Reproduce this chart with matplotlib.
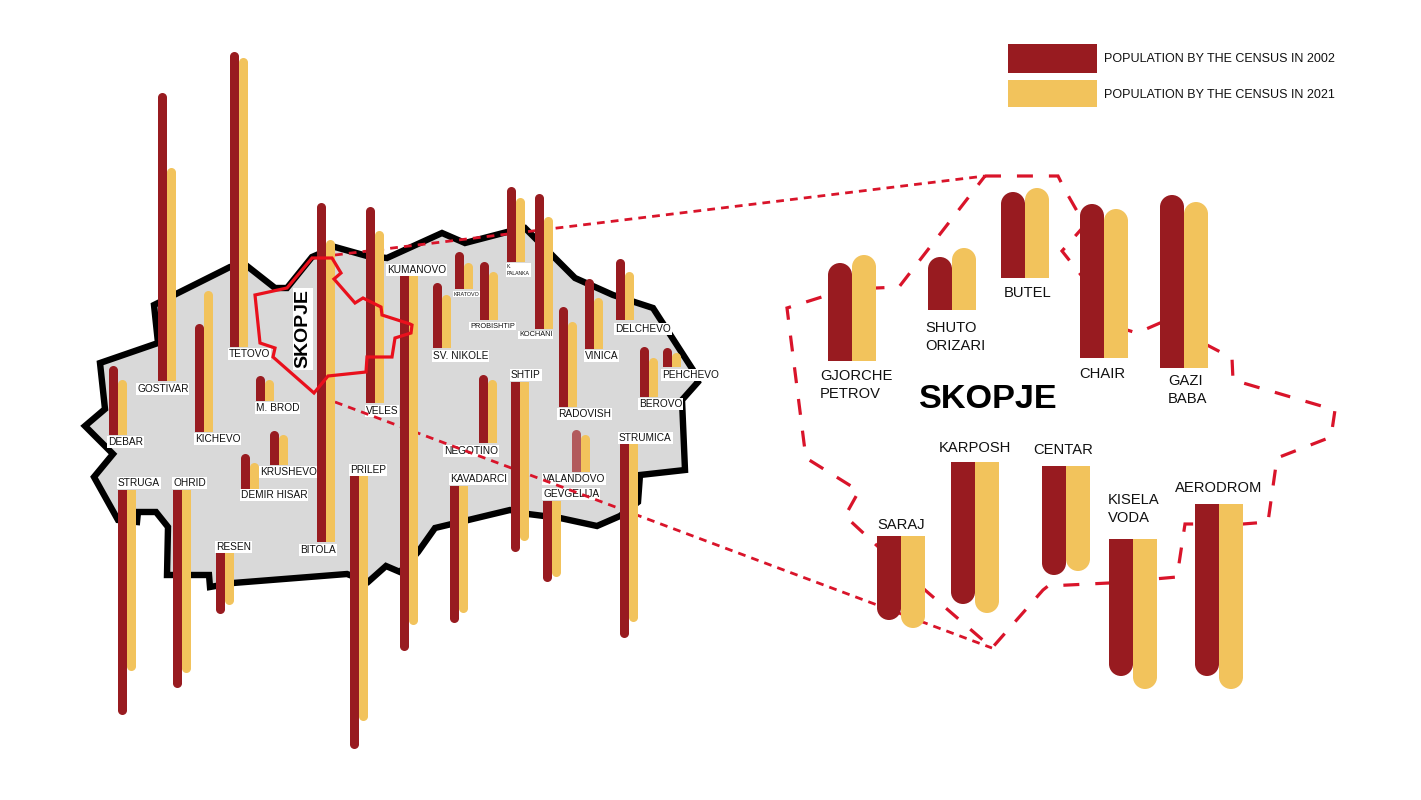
import matplotlib
matplotlib.use("Agg")
import matplotlib.pyplot as plt
from matplotlib.patches import Circle, Polygon, Rectangle

plt.rcParams['font.family'] = ['Liberation Sans', 'DejaVu Sans']

RED = "#981b20"
YELLOW = "#f2c35c"
DASH_RED = "#d9142a"
LINE_RED = "#e9101c"

# municipalities on the map: bar lengths
towns = ["GOSTIVAR", "TETOVO", "BITOLA", "VELES", "KICHEVO", "DEBAR", "M. BROD", "KRUSHEVO",
         "DEMIR HISAR", "STRUGA", "OHRID", "RESEN", "PRILEP", "KUMANOVO", "KAVADARCI", "SHTIP",
         "GEVGELIJA", "STRUMICA", "NEGOTINO", "VALANDOVO", "RADOVISH", "SV. NIKOLE", "KRATOVO",
         "PROBISHTIP", "K. PALANKA", "KOCHANI", "VINICA", "DELCHEVO", "BEROVO", "PEHCHEVO"]
towns_2002 = [288, 295, 339, 196, 108, 69, 25, 34, 35, 225, 198, 61, 273, 375, 137, 170, 81, 194,
              68, 42, 100, 65, 37, 58, 75, 135, 70, 61, 50, 19]
towns_2021 = [213, 289, 302, 172, 141, 55, 21, 30, 26, 181, 183, 52, 245, 349, 127, 159, 76, 178,
              63, 37, 85, 53, 26, 48, 64, 112, 51, 48, 39, 14]

# Skopje districts
districts = ["GJORCHE PETROV", "SHUTO ORIZARI", "BUTEL", "CHAIR", "GAZI BABA",
             "SARAJ", "KARPOSH", "CENTAR", "KISELA VODA", "AERODROM"]
districts_2002 = [98, 53, 86, 154, 173, 84, 142, 109, 137, 172]
districts_2021 = [106, 62, 90, 149, 166, 92, 151, 105, 150, 185]

legend_labels = ["POPULATION BY THE CENSUS IN 2002", "POPULATION BY THE CENSUS IN 2021"]

# layout, in picture pixels
town_x = [158, 230, 317, 366, 195, 109, 256, 270, 241, 118, 173, 216, 350, 400, 450, 511, 543, 620,
          479, 572, 559, 433, 455, 480, 507, 535, 585, 616, 640, 663]
town_base = [381, 347, 542, 403, 432, 435, 401, 465, 489, 490, 490, 553, 476, 276, 486, 382, 501, 444,
             443, 472, 407, 348, 289, 320, 262, 329, 349, 320, 397, 367]
town_dir = [1, 1, 1, 1, 1, 1, 1, 1, 1, -1, -1, -1, -1, -1, -1, -1, -1, -1,
            1, 1, 1, 1, 1, 1, 1, 1, 1, 1, 1, 1]
town_label_xy = [(137, 389), (229, 354), (300, 550), (366, 411), (195, 439), (108, 442), (256, 408),
                 (260, 472), (241, 495), (118, 483), (173, 483), (216, 547), (350, 470), (387, 270),
                 (450, 479), (511, 375), (543, 494), (619, 438), (444, 451), (543, 479), (558, 414),
                 (433, 356), (454, 294), (470, 326), (507, 270), (519, 335), (585, 356), (615, 329),
                 (639, 404), (662, 375)]
small_fonts = {"KRATOVO": 3.9, "PROBISHTIP": 5.3, "K. PALANKA": 3.7, "KOCHANI": 5.3}

district_x = [828, 928, 1001, 1080, 1160, 877, 951, 1042, 1109, 1195]
district_base = [361, 310, 278, 358, 368, 536, 462, 466, 539, 504]
district_dir = [1, 1, 1, 1, 1, -1, -1, -1, -1, -1]
district_label_xy = [(820, 385), (925, 337), (1004, 293), (1079, 374), (1168, 390),
                     (877, 525), (939, 448), (1033, 450), (1108, 509), (1175, 488)]

country = [(85, 426), (105, 409), (100, 363), (158, 343), (154, 305), (230, 267), (247, 266), (275, 288),
           (287, 288), (312, 257), (335, 247), (367, 256), (387, 258), (442, 233), (465, 243), (507, 232),
           (525, 228), (553, 256), (575, 278), (613, 295), (653, 308), (693, 370), (698, 382), (682, 400),
           (685, 470), (640, 475), (638, 502), (620, 516), (597, 526), (560, 518), (528, 514), (510, 510),
           (435, 528), (418, 552), (400, 572), (386, 566), (368, 582), (347, 574), (233, 583), (210, 587),
           (209, 575), (167, 575), (168, 527), (156, 512), (138, 512), (137, 522), (118, 520), (94, 477),
           (113, 454)]
skopje_map = [(255, 295), (287, 288), (312, 258), (332, 258), (341, 273), (334, 279), (355, 303), (363, 298),
              (381, 307), (382, 315), (410, 324), (412, 325), (411, 333), (395, 338), (392, 357), (367, 357),
              (366, 372), (328, 376), (314, 393), (273, 357), (275, 348), (260, 343)]
skopje_zoom = [(985, 176), (1058, 176), (1065, 190), (1085, 225), (1062, 251), (1085, 280), (1127, 330),
               (1137, 333), (1160, 323), (1207, 345), (1232, 358), (1233, 380), (1335, 410), (1331, 437),
               (1277, 458), (1268, 522), (1243, 524), (1185, 524), (1177, 577), (1109, 583), (1048, 586),
               (1043, 590), (992, 648), (925, 590), (873, 542), (845, 516), (859, 491), (806, 458), (804, 443),
               (787, 308), (828, 295), (876, 288), (899, 287)]


def draw_bar(ax, x, base, length, width, color, direction):
    # flat end on the base line, round end away from it
    r = width / 2
    ax.bar(x + r, -direction * (length - r), bottom=base, width=width, color=color,
           linewidth=0, zorder=4)
    ax.add_patch(Circle((x + r, base - direction * (length - r)), r, color=color, linewidth=0, zorder=4))


fig = plt.figure(figsize=(14.21, 8), dpi=100)
ax = fig.add_axes([0, 0, 1, 1])
ax.set_xlim(0, 1421)
ax.set_ylim(800, 0)
ax.axis("off")

ax.add_patch(Polygon(country, closed=True, facecolor="#d9d9d9", edgecolor="black",
                     linewidth=4.6, joinstyle="miter", zorder=1))

# lines from the map to the enlarged Skopje
dash = (0, (2.8, 2.2))
ax.plot([335, 985], [255, 176], color=DASH_RED, lw=2, linestyle=dash, zorder=3)
ax.plot([335, 992], [402, 648], color=DASH_RED, lw=2, linestyle=dash, zorder=3)
ax.add_patch(Polygon(skopje_zoom, closed=True, fill=False, edgecolor=DASH_RED, linewidth=2.3,
                     linestyle=(0, (5, 5)), zorder=2))

for name, x, base, d, v02, v21, xy in zip(towns, town_x, town_base, town_dir,
                                          towns_2002, towns_2021, town_label_xy):
    draw_bar(ax, x, base, v02, 9, "#b25a5c" if name == "VALANDOVO" else RED, d)
    draw_bar(ax, x + 9, base, v21, 9, YELLOW, d)
    label = "K.\nPALANKA" if name == "K. PALANKA" else name
    ax.text(xy[0], xy[1], label, fontsize=small_fonts.get(name, 7.3), ha="left", va="center", color="#111111",
            linespacing=1.5, bbox=dict(facecolor="white", edgecolor="none", pad=0.6), zorder=2.5)

for name, x, base, d, v02, v21, xy in zip(districts, district_x, district_base, district_dir,
                                          districts_2002, districts_2021, district_label_xy):
    draw_bar(ax, x, base, v02, 24, RED, d)
    draw_bar(ax, x + 24, base, v21, 24, YELLOW, d)
    label = name.replace(" ", "\n") if name not in ("BUTEL", "CHAIR") else name
    ax.text(xy[0], xy[1], label, fontsize=10.6, ha="left", va="center", color="#111111",
            linespacing=1.28, zorder=5)

ax.add_patch(Polygon(skopje_map, closed=True, fill=False, edgecolor=LINE_RED, linewidth=2.3,
                     joinstyle="miter", zorder=5))
ax.text(303, 329, "SKOPJE", fontsize=14, fontweight="bold", rotation=90, ha="center", va="center",
        color="black", bbox=dict(facecolor="white", edgecolor="none", pad=1), zorder=6)
ax.text(919, 400, "SKOPJE", fontsize=24.7, fontweight="bold", ha="left", va="center", color="black", zorder=6)

# legend
for label, y, h, color in zip(legend_labels, [44, 80], [29, 27], [RED, YELLOW]):
    ax.add_patch(Rectangle((1008, y), 89, h, facecolor=color, edgecolor="none", zorder=3))
    ax.text(1104, y + h / 2 + 1, label, fontsize=9, ha="left", va="center", color="#111111", zorder=3)

fig.savefig("out.png", dpi=100)
